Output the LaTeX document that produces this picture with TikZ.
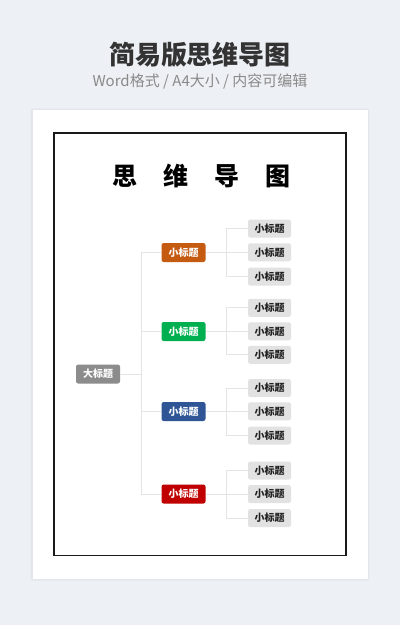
\documentclass[tikz,border=0pt]{standalone}
\usepackage{fontspec}
\setmainfont{Noto Sans CJK SC}
\definecolor{bg}{HTML}{EDF0F4}
\definecolor{shadowc}{HTML}{E3E6EB}
\definecolor{titlec}{HTML}{333333}
\definecolor{subc}{HTML}{8A8A8A}
\definecolor{linec}{HTML}{E4E4E4}
\definecolor{rootc}{HTML}{8C8C8C}
\definecolor{oranc}{HTML}{C55A11}
\definecolor{greenc}{HTML}{00B050}
\definecolor{bluec}{HTML}{2F5597}
\definecolor{redc}{HTML}{C00000}
\definecolor{leafc}{HTML}{E2E2E2}
\definecolor{leaft}{HTML}{222222}
\tikzset{
  boxbase/.style={rounded corners=2.2pt, minimum width=44pt, minimum height=19pt, inner sep=0pt,
    font=\fontsize{10}{10}\selectfont\bfseries, text=white},
  rootbox/.style={boxbase, fill=rootc},
  midbox/.style={boxbase, fill=#1},
  leafbox/.style={boxbase, minimum width=43pt, minimum height=18pt, fill=leafc, text=leaft},
  conn/.style={draw=linec, line width=0.8pt},
}
\begin{document}
\begin{tikzpicture}[x=1pt,y=-1pt]
\useasboundingbox (0,0) rectangle (400,625);
\fill[bg] (0,0) rectangle (400,625);
% card shadow
\fill[shadowc, rounded corners=2pt] (30.5,108.5) rectangle (369,580.5);
\fill[white] (32.5,110) rectangle (367.5,578.5);
% frame
\draw[line width=1.4pt, draw=black!90] (54,133) rectangle (346,555.5);
% titles
\node[font=\fontsize{26}{26}\selectfont\bfseries, text=titlec] (title) at (200,55) {简易版思维导图};
\node[font=\fontsize{15}{15}\selectfont, text=subc] (sub) at (200,81) {Word格式 / A4大小 / 内容可编辑};
\node[font=\fontsize{25}{25}\selectfont\bfseries, text=black] (h1) at (124.5,176) {思};
\node[font=\fontsize{25}{25}\selectfont\bfseries, text=black] (h2) at (175.5,176) {维};
\node[font=\fontsize{25}{25}\selectfont\bfseries, text=black] (h3) at (226.5,176) {导};
\node[font=\fontsize{25}{25}\selectfont\bfseries, text=black] (h4) at (277.5,176) {图};
% nodes
\node[rootbox] (root) at (98,374) {大标题};
\node[midbox=oranc] (m1) at (183.5,252.5) {小标题};
\node[midbox=greenc] (m2) at (183.5,331.5) {小标题};
\node[midbox=bluec] (m3) at (183.5,411.5) {小标题};
\node[midbox=redc] (m4) at (183.5,494) {小标题};
\node[leafbox] (l11) at (269.5,228.5) {小标题};
\node[leafbox] (l12) at (269.5,252.3) {小标题};
\node[leafbox] (l13) at (269.5,276.5) {小标题};
\node[leafbox] (l21) at (269.5,307.8) {小标题};
\node[leafbox] (l22) at (269.5,331.3) {小标题};
\node[leafbox] (l23) at (269.5,354.8) {小标题};
\node[leafbox] (l31) at (269.5,388) {小标题};
\node[leafbox] (l32) at (269.5,411.3) {小标题};
\node[leafbox] (l33) at (269.5,435.5) {小标题};
\node[leafbox] (l41) at (269.5,470.5) {小标题};
\node[leafbox] (l42) at (269.5,494) {小标题};
\node[leafbox] (l43) at (269.5,518) {小标题};
% connectors
\coordinate (j0) at (141,374);
\draw[conn] (root.east) -- (j0);
\foreach \m in {m1,m2,m3,m4} \draw[conn] (j0) |- (\m.west);
\foreach \g in {1,2,3,4} {
  \coordinate (j\g) at (226.5,0 |- m\g.east);
  \draw[conn] (m\g.east) -- (j\g);
  \foreach \k in {1,2,3} \draw[conn] (j\g) |- (l\g\k.west);
}
\end{tikzpicture}
\end{document}
